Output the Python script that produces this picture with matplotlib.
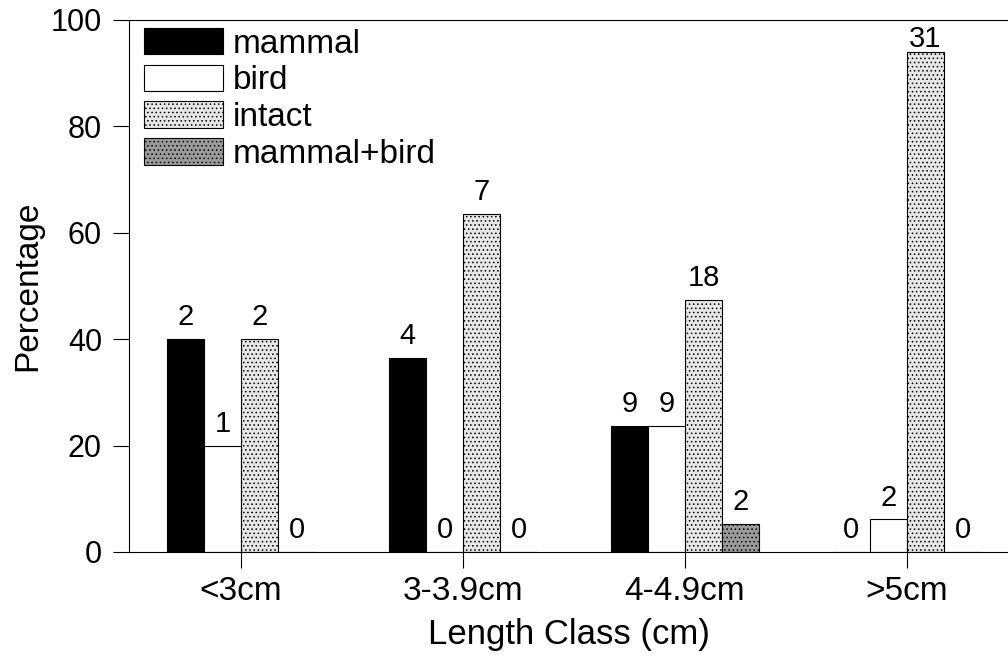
import matplotlib
matplotlib.use("Agg")
import matplotlib.pyplot as plt
import numpy as np

plt.rcParams["font.family"] = ["Liberation Sans", "DejaVu Sans"]
plt.rcParams["hatch.linewidth"] = 0.6

categories = ["<3cm", "3-3.9cm", "4-4.9cm", ">5cm"]
series = ["mammal", "bird", "intact", "mammal+bird"]
# percentage per length class
mammal = [40.0, 36.4, 23.7, 0.0]
bird = [20.0, 0.0, 23.7, 6.1]
intact = [40.0, 63.6, 47.4, 93.9]
mammal_bird = [0.0, 0.0, 5.3, 0.0]
# counts printed above bars
n_mammal = [2, 4, 9, 0]
n_bird = [1, 0, 9, 2]
n_intact = [2, 7, 18, 31]
n_mammal_bird = [0, 0, 2, 0]

values = [mammal, bird, intact, mammal_bird]
counts = [n_mammal, n_bird, n_intact, n_mammal_bird]
styles = [
    dict(facecolor="black", edgecolor="black", hatch=None),
    dict(facecolor="white", edgecolor="black", hatch=None),
    dict(facecolor="#e6e6e6", edgecolor="black", hatch="...."),
    dict(facecolor="#9a9a9a", edgecolor="black", hatch="...."),
]

fig = plt.figure(figsize=(10.08, 6.61), dpi=100)
ax = fig.add_axes([0.128, 0.165, 0.872, 0.805])

x = np.arange(len(categories))
w = 0.167
offsets = [-1.5 * w, -0.5 * w, 0.5 * w, 1.5 * w]
for vals, cnts, st, off, name in zip(values, counts, styles, offsets, series):
    ax.bar(x + off, vals, width=w, label=name, linewidth=0.8, **st)
    for xi, v, c in zip(x, vals, cnts):
        # labels sit above the bar, squeezed under the top frame if needed
        ax.text(xi + off, min(v + 2.6, 94.8), str(c), ha="center",
                va="baseline", fontsize=21)

ax.set_xlim(-0.505, 3.455)
ax.set_ylim(0, 100)
ax.set_yticks([0, 20, 40, 60, 80, 100])
ax.set_xticks(x)
ax.set_xticklabels(categories)
ax.tick_params(axis="both", length=11.5, width=0.8, direction="out")
ax.tick_params(axis="y", labelsize=22, pad=8)
ax.tick_params(axis="x", labelsize=24, pad=6)
ax.spines["right"].set_visible(False)
for s in ["left", "top", "bottom"]:
    ax.spines[s].set_linewidth(0.8)
ax.set_ylabel("Percentage", fontsize=24, labelpad=5)
ax.set_xlabel("Length Class (cm)", fontsize=25, labelpad=8)

ax.legend(loc="upper left", bbox_to_anchor=(0.006, 1.004), frameon=False,
          fontsize=24, handlelength=2.35, handleheight=0.85,
          handletextpad=0.3, labelspacing=0.15, borderaxespad=0.1,
          borderpad=0.2)

fig.savefig("out.png", dpi=100)
